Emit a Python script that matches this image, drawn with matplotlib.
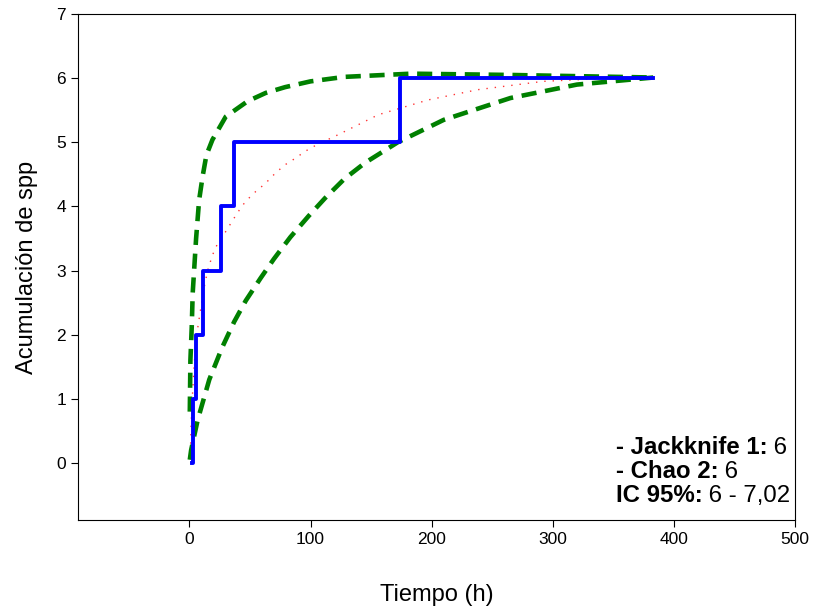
import matplotlib
matplotlib.use("Agg")
import matplotlib.pyplot as plt

plt.rcParams['font.family'] = ['Liberation Sans', 'DejaVu Sans']

# Observed species accumulation (step)
obs_x = [2.5, 2.7, 5.5, 11.3, 26, 36.8, 174, 383]
obs_y = [0, 1, 2, 3, 4, 5, 6, 6]

# Upper 95% CI
up_x = [0.3, 0.8, 1.9, 2.7, 5.5, 8, 10.9, 14, 19, 30, 48, 63, 79, 100, 128, 183, 265, 383]
up_y = [0.8, 1.6, 2.12, 2.65, 3.5, 4.1, 4.47, 4.8, 5.04, 5.4, 5.64, 5.77, 5.86, 5.95, 6.02, 6.07, 6.05, 6.01]

# Lower 95% CI
lo_x = [0.3, 1.4, 6.8, 16.4, 27, 36.9, 46.5, 58.7, 69.7, 83.3, 98.4, 112, 128, 145, 172, 210, 265, 320, 383]
lo_y = [0.05, 0.2, 0.67, 1.3, 1.8, 2.2, 2.53, 2.88, 3.18, 3.52, 3.85, 4.13, 4.43, 4.68, 5.0, 5.35, 5.69, 5.9, 6.01]

# Expected (Mao Tau)
mt_x = [1.0, 1.4, 2.7, 4.2, 6.8, 9.6, 12.3, 15, 19, 23.2, 28.7, 34, 39.6, 46.4, 54.6, 62.8, 71, 79,
        87.4, 95.6, 105, 123, 156, 197, 238, 292, 347, 383]
mt_y = [0.3, 0.6, 1.14, 1.6, 2.1, 2.44, 2.75, 3.0, 3.24, 3.42, 3.57, 3.73, 3.9, 4.08, 4.23, 4.36, 4.52, 4.65,
        4.75, 4.86, 4.96, 5.12, 5.43, 5.66, 5.82, 5.95, 6.0, 6.0]

x_ticks = [0, 100, 200, 300, 400, 500]
y_ticks = [0, 1, 2, 3, 4, 5, 6, 7]

fig = plt.figure(figsize=(8.17, 6.10), dpi=100)
ax = fig.add_axes([0.0955, 0.1475, 0.8775, 0.8295])

ax.plot(mt_x, mt_y, color='red', lw=1.0, linestyle=(0, (1, 5)), alpha=0.8)
ax.plot(lo_x, lo_y, color='green', lw=3.3, linestyle=(0, (3.3, 1.9)))
ax.plot(up_x, up_y, color='green', lw=3.3, linestyle=(0, (3.3, 1.9)))
ax.plot(obs_x, obs_y, color='blue', lw=2.8, drawstyle='steps-post')

ax.set_xlim(-92, 500)
ax.set_ylim(-0.89, 7)
ax.set_xticks(x_ticks)
ax.set_yticks(y_ticks)
ax.tick_params(direction='out', labelsize=12.5, length=5, width=0.8, top=False, right=False)
for s in ax.spines.values():
    s.set_linewidth(0.8)

ax.set_xlabel('Tiempo (h)', fontsize=17, labelpad=27)
ax.set_ylabel('Acumulación de spp', fontsize=17, labelpad=13)

lines = [("- Jackknife 1:", " 6"), ("- Chao 2:", " 6"), ("IC 95%:", " 6 - 7,02")]
ys = [0.1443, 0.0968, 0.0494]
for (b, n), yy in zip(lines, ys):
    t = ax.text(0.750, yy, b, transform=ax.transAxes, fontsize=17.3,
                fontweight='bold', ha='left', va='center')
    ax.annotate(n, xy=(1, 0), xycoords=t, fontsize=17.3, ha='left', va='bottom')

fig.savefig('out.png', dpi=100)
